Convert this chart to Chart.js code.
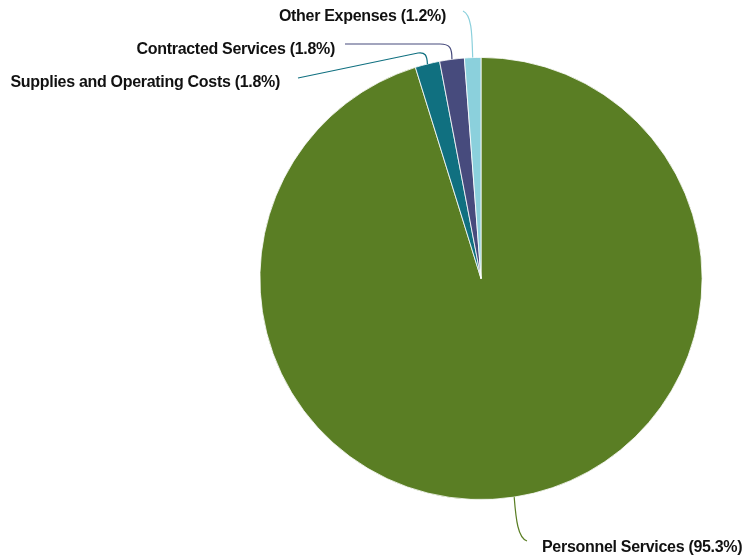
<!DOCTYPE html>
<html>
<head>
<meta charset="utf-8">
<script src="https://cdn.jsdelivr.net/npm/chart.js@4/dist/chart.umd.min.js"></script>
<style>
html,body{margin:0;padding:0;background:#fff;}
#wrap{width:744px;height:556px;position:relative;}
</style>
</head>
<body>
<div id="wrap"><canvas id="c" width="744" height="556"></canvas></div>
<script>
const categories = ["Personnel Services", "Supplies and Operating Costs", "Contracted Services", "Other Expenses"];
const shares = [95.3, 1.8, 1.8, 1.2];
const colors = ["#5a7e24", "#107080", "#474b7d", "#8bd0dc"];

// leader/label layout (positions only)
const labelLayout = [
  {align:"left",  tx:542, ty:552, path:[["c",516,520,518,538,527,541]]},
  {align:"right", tx:280, ty:87,  path:[["c",427,55,425,52,418,53],["l",298,78]]},
  {align:"right", tx:335, ty:54,  path:[["c",452,48,450,44,440,44],["l",345,44]]},
  {align:"right", tx:446, ty:21,  path:[["c",472,35,472,15,463,11]]}
];

const leaderPlugin = {
  id: "leaders",
  afterDraw(chart) {
    const ctx = chart.ctx;
    const meta = chart.getDatasetMeta(0);
    meta.data.forEach((arc, i) => {
      const p = arc.getProps(["x","y","startAngle","endAngle","outerRadius"], true);
      const mid = (p.startAngle + p.endAngle) / 2;
      const sx = p.x + Math.cos(mid) * p.outerRadius;
      const sy = p.y + Math.sin(mid) * p.outerRadius;
      const L = labelLayout[i];
      ctx.save();
      ctx.strokeStyle = colors[i];
      ctx.lineWidth = 1.2;
      ctx.beginPath();
      ctx.moveTo(sx, sy);
      L.path.forEach(seg => {
        if (seg[0] === "c") ctx.bezierCurveTo(seg[1],seg[2],seg[3],seg[4],seg[5],seg[6]);
        else ctx.lineTo(seg[1], seg[2]);
      });
      ctx.stroke();
      ctx.fillStyle = "#111";
      ctx.font = "bold 16px 'Liberation Sans', Arial, sans-serif";
      try { ctx.letterSpacing = "-0.3px"; } catch(e) {}
      ctx.textAlign = L.align;
      ctx.textBaseline = "alphabetic";
      ctx.fillText(categories[i] + " (" + shares[i].toFixed(1) + "%)", L.tx, L.ty);
      ctx.restore();
    });
  }
};

new Chart(document.getElementById("c"), {
  type: "pie",
  data: {
    labels: categories,
    datasets: [{
      data: shares,
      backgroundColor: colors,
      borderColor: "#ffffff",
      borderWidth: 0.8
    }]
  },
  options: {
    responsive: false,
    animation: false,
    layout: { padding: { left: 259.5, right: 41.5, top: 57, bottom: 56 } },
    plugins: { legend: { display: false }, tooltip: { enabled: false } }
  },
  plugins: [leaderPlugin]
});
</script>
</body>
</html>
